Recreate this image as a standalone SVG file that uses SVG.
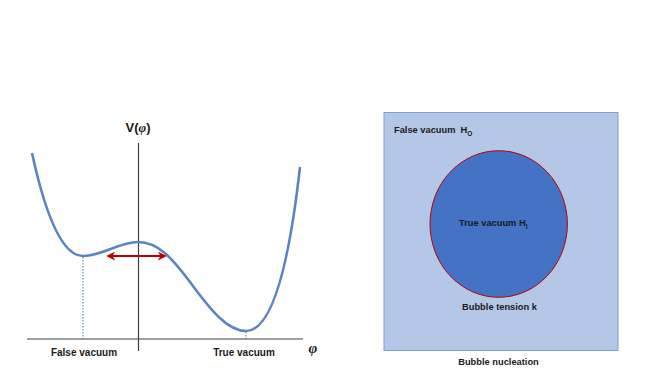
<svg xmlns="http://www.w3.org/2000/svg" width="654" height="392" viewBox="0 0 654 392">
<defs>
<style>
.lbl{font-family:"Liberation Sans",Arial,sans-serif;font-weight:bold;fill:#1a1a1a}
.axis{stroke:#404040;stroke-width:1.2;fill:none}
.dot{stroke:#4472C4;stroke-width:1;stroke-dasharray:1.5,1.5;fill:none}
</style>
<marker id="ah" viewBox="0 0 10 10" refX="8" refY="5" markerWidth="4.5" markerHeight="4.5" orient="auto-start-reverse">
<path d="M0,0 L10,5 L0,10 L3,5 Z" fill="#C00000"/>
</marker>
</defs>
<rect width="654" height="392" fill="#ffffff"/>
<g id="potential-plot">
<line class="axis" x1="27" y1="339" x2="303" y2="339"/>
<line class="axis" x1="138.5" y1="143" x2="138.5" y2="351"/>
<line class="dot" x1="83" y1="257" x2="83" y2="339"/>
<line class="dot" x1="246" y1="332" x2="246" y2="339"/>
<path d="M32,153 C47,222 64,256 83,256 C102,256 119,242 138,242 C158,242 172,258 190,282 C212,312 228,331 246,331 C266,331 286,292 300,167" fill="none" stroke="#5B84C4" stroke-width="2.6"/>
<text class="lbl" x="138" y="132" font-size="13" text-anchor="middle">V(<tspan font-family="'Liberation Serif',serif" font-style="italic">φ</tspan>)</text>
<text class="lbl" x="84" y="356" font-size="10" text-anchor="middle">False vacuum</text>
<text class="lbl" x="244" y="356" font-size="10" text-anchor="middle">True vacuum</text>
<text x="313" y="353" font-size="15" font-family="'Liberation Serif',serif" font-style="italic" font-weight="bold" fill="#1a1a1a" text-anchor="middle">φ</text>
</g>
<g id="connectors">
<line x1="108" y1="256" x2="165" y2="256" stroke="#C00000" stroke-width="2" marker-start="url(#ah)" marker-end="url(#ah)"/>
</g>
<g id="bubble-box">
<rect x="384" y="112.5" width="234" height="238" fill="#B4C7E7" stroke="#7F9FD2" stroke-width="1"/>
<text class="lbl" x="394" y="133" font-size="9.3">False vacuum<tspan dx="5">H</tspan><tspan font-size="6.5" dy="2.5">O</tspan></text>
</g>
<g id="bubble">
<ellipse cx="498.7" cy="224" rx="68.7" ry="73.3" fill="#4472C4" stroke="#C00000" stroke-width="1"/>
<text class="lbl" x="459" y="226" font-size="9.3">True vacuum H<tspan font-size="6.5" dy="2.5">I</tspan></text>
</g>
<g id="labels">
<text class="lbl" x="499.5" y="310" font-size="9.3" text-anchor="middle">Bubble tension k</text>
<text class="lbl" x="498.5" y="365" font-size="9.3" text-anchor="middle">Bubble nucleation</text>
</g>
</svg>
